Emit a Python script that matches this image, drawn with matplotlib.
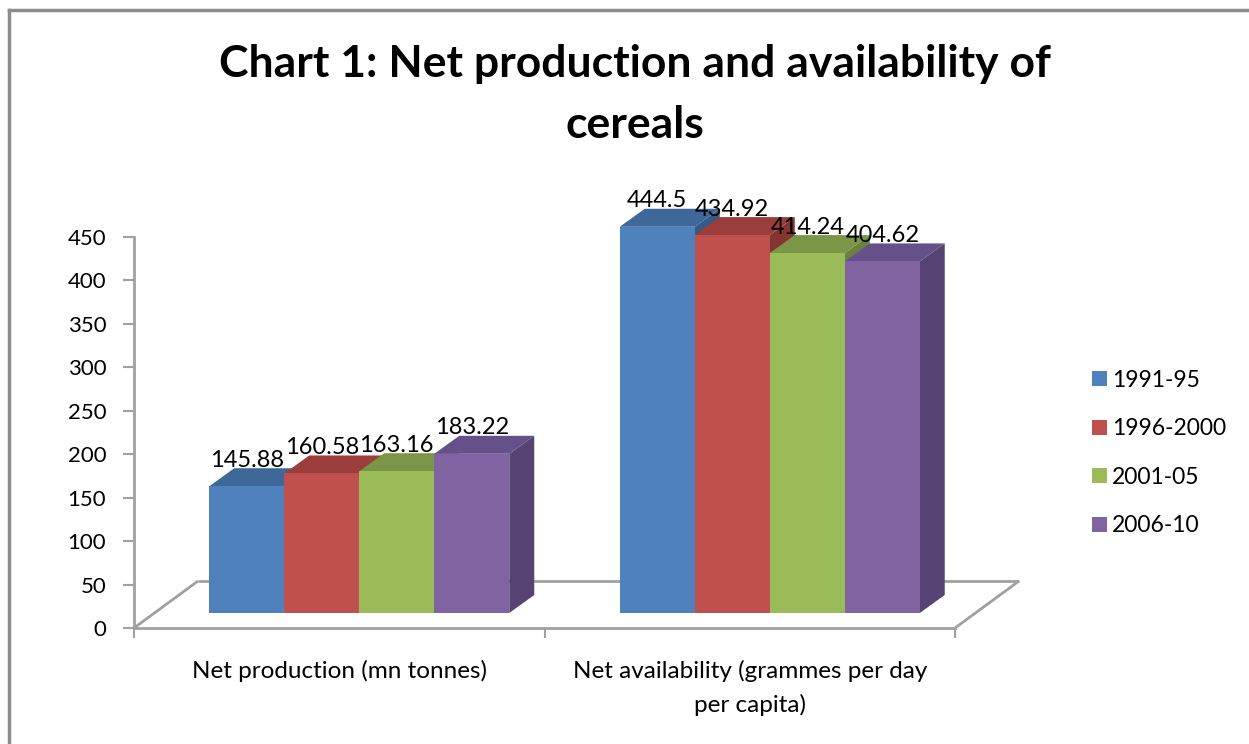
import matplotlib
matplotlib.use("Agg")
import matplotlib.pyplot as plt
from matplotlib.patches import Polygon, Patch
from matplotlib.lines import Line2D
import numpy as np

# ---------------- data ----------------
categories = ["Net production (mn tonnes)",
              "Net availability (grammes per day\nper capita)"]
series_names = ["1991-95", "1996-2000", "2001-05", "2006-10"]
values_1991_95 = [145.88, 444.5]
values_1996_2000 = [160.58, 434.92]
values_2001_05 = [163.16, 414.24]
values_2006_10 = [183.22, 404.62]
series_values = [values_1991_95, values_1996_2000, values_2001_05, values_2006_10]
yticks = [0, 50, 100, 150, 200, 250, 300, 350, 400, 450]
title = "Chart 1: Net production and availability of\ncereals"

# ---------------- style ----------------
front_colors = ["#4F81BD", "#C0504D", "#9BBB59", "#8064A2"]
top_colors = ["#3D6898", "#9A3D3B", "#7A9646", "#66508A"]
side_colors = ["#355A84", "#853432", "#6A823C", "#574373"]
GRAY = "#A0A0A0"
FONT = "Lato"
plt.rcParams["font.family"] = [FONT, "DejaVu Sans"]

W, H = 1249, 744
fig = plt.figure(figsize=(W / 100, H / 100), dpi=100)
fig.patch.set_facecolor("white")

def fx(px):
    return px / W

def fy(py):
    return 1 - py / H

# axes: front edge of floor spans x 134..955, value 0 at y 628, 450 at 237
ax_l, ax_r, ax_b, ax_t = 134, 955, 628, 237
ax = fig.add_axes([fx(ax_l), fy(ax_b), (ax_r - ax_l) / W, (ax_b - ax_t) / H])
ax.set_xlim(-0.5, 1.5)
ax.set_ylim(0, 450)
ax.set_facecolor("none")

PX_X = (ax_r - ax_l) / 2.0      # pixels per x unit
PX_Y = (ax_b - ax_t) / 450.0    # pixels per value unit

def ux(px):
    return px / PX_X

def uy(px):
    return px / PX_Y

BAR_W = ux(75)
FRONT_DX, FRONT_DY = ux(20), uy(15)
DEPTH_DX, DEPTH_DY = ux(25), uy(18)
FLOOR_DX, FLOOR_DY = ux(64), uy(47)

# floor (3D base)
x0, x1 = -0.5, 1.5
floor_kw = dict(color=GRAY, lw=2, zorder=1, clip_on=False, solid_capstyle="butt")
ax.add_line(Line2D([x0, x0 + FLOOR_DX], [0, FLOOR_DY], **floor_kw))
ax.add_line(Line2D([x0 + FLOOR_DX, x1 + FLOOR_DX], [FLOOR_DY, FLOOR_DY], **floor_kw))
ax.add_line(Line2D([x1, x1 + FLOOR_DX], [0, FLOOR_DY], **floor_kw))

# bars
n = len(series_values)
cat_x = np.arange(len(categories))
for i, vals in enumerate(series_values):
    lefts = cat_x - n / 2 * BAR_W + i * BAR_W + FRONT_DX
    ax.bar(lefts, vals, width=BAR_W, bottom=FRONT_DY, align="edge",
           color=front_colors[i], edgecolor="none", zorder=3 + 2 * i,
           clip_on=False, label=series_names[i])
    for left, v in zip(lefts, vals):
        right = left + BAR_W
        top = FRONT_DY + v
        top_face = [(left, top), (right, top),
                    (right + DEPTH_DX, top + DEPTH_DY), (left + DEPTH_DX, top + DEPTH_DY)]
        side_face = [(right, FRONT_DY), (right + DEPTH_DX, FRONT_DY + DEPTH_DY),
                     (right + DEPTH_DX, top + DEPTH_DY), (right, top)]
        ax.add_patch(Polygon(side_face, closed=True, facecolor=side_colors[i],
                             edgecolor="none", zorder=2 + 2 * i, clip_on=False))
        ax.add_patch(Polygon(top_face, closed=True, facecolor=top_colors[i],
                             edgecolor="none", zorder=2 + 2 * i, clip_on=False))
        ax.text(left + BAR_W / 2, top + uy(26), f"{v:g}", ha="center", va="center",
                fontsize=17, color="black", zorder=20, clip_on=False)

# spines / ticks
for s in ["top", "right"]:
    ax.spines[s].set_visible(False)
for s in ["left", "bottom"]:
    ax.spines[s].set_color(GRAY)
    ax.spines[s].set_linewidth(2)
ax.set_yticks(yticks)
ax.set_yticklabels([str(t) for t in yticks])
ax.tick_params(axis="y", direction="out", length=8, width=1.5, color=GRAY,
               pad=12, labelsize=16, labelcolor="black")
ax.set_xticks(cat_x)
ax.set_xticklabels(categories)
ax.set_xticks([-0.5, 0.5, 1.5], minor=True)
ax.tick_params(axis="x", which="major", length=0, pad=23, labelsize=17.5,
               labelcolor="black")
ax.tick_params(axis="x", which="minor", direction="out", length=7, width=1.5,
               color=GRAY)
for lab in ax.get_xticklabels():
    lab.set_linespacing(1.68)
    lab.set_multialignment("center")

# title
fig.text(fx(635), fy(138), title, ha="center", va="baseline", fontsize=32,
         fontweight="bold", linespacing=1.65)

# legend
handles = [Patch(facecolor=c, edgecolor="none") for c in front_colors]
fig.legend(handles, series_names, loc="center left",
           bbox_to_anchor=(fx(1083), fy(453)), frameon=False, fontsize=16.5,
           handlelength=0.63, handleheight=0.63, handletextpad=0.25,
           labelspacing=1.2, borderaxespad=0)

# outer chart border (top and left visible)
fig.add_artist(Line2D([fx(9), fx(9)], [fy(10), 0], transform=fig.transFigure,
                      color="#8C8C8C", lw=2.5))
fig.add_artist(Line2D([fx(9), 1], [fy(10), fy(10)], transform=fig.transFigure,
                      color="#8C8C8C", lw=2.5))

fig.savefig("out.png", dpi=100, facecolor="white")
